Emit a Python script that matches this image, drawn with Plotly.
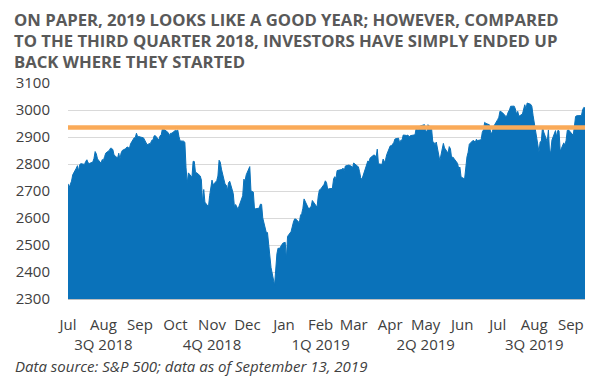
import plotly.graph_objects as go

# ---- data: S&P 500 daily closes (read/estimated) ----
jul18_days = [2, 3, 5, 6, 9, 10, 11, 12, 13, 16, 17, 18, 19, 20, 23, 24, 25, 26, 27, 30, 31]
jul18_vals = [2726.71, 2713.22, 2736.61, 2759.82, 2784.17, 2793.84, 2774.02, 2798.29, 2801.31, 2798.43,
              2809.55, 2815.62, 2804.49, 2801.83, 2806.98, 2820.40, 2846.07, 2837.44, 2818.82, 2802.60, 2816.29]
aug18_days = [1, 2, 3, 6, 7, 8, 9, 10, 13, 14, 15, 16, 17, 20, 21, 22, 23, 24, 27, 28, 29, 30, 31]
aug18_vals = [2813.36, 2827.22, 2840.35, 2850.40, 2858.45, 2857.70, 2853.58, 2833.28, 2821.93, 2839.96,
              2818.37, 2840.69, 2850.13, 2857.05, 2862.96, 2861.82, 2856.98, 2874.69, 2896.74, 2897.52,
              2914.04, 2901.13, 2901.52]
sep18_days = [4, 5, 6, 7, 10, 11, 12, 13, 14, 17, 18, 19, 20, 21, 24, 25, 26, 27, 28]
sep18_vals = [2896.72, 2888.60, 2878.05, 2871.68, 2877.13, 2887.89, 2888.92, 2904.18, 2904.98, 2888.80,
              2904.31, 2907.95, 2930.75, 2929.67, 2919.37, 2915.56, 2905.97, 2914.00, 2913.98]
oct18_days = [1, 2, 3, 4, 5, 8, 9, 10, 11, 12, 15, 16, 17, 18, 19, 22, 23, 24, 25, 26, 29, 30, 31]
oct18_vals = [2924.59, 2923.43, 2925.51, 2901.61, 2885.57, 2884.43, 2880.34, 2785.68, 2728.37, 2767.13,
              2750.79, 2809.92, 2809.21, 2768.78, 2767.78, 2755.88, 2740.69, 2656.10, 2705.57, 2658.69,
              2641.25, 2682.63, 2711.74]
nov18_days = [1, 2, 5, 6, 7, 8, 9, 12, 13, 14, 15, 16, 19, 20, 21, 23, 26, 27, 28, 29, 30]
nov18_vals = [2740.37, 2723.06, 2738.31, 2755.45, 2813.89, 2806.83, 2781.01, 2726.22, 2722.18, 2701.58,
              2730.20, 2736.27, 2690.73, 2641.89, 2649.93, 2632.56, 2673.45, 2682.17, 2743.79, 2737.80, 2760.17]
dec18_days = [3, 4, 6, 7, 10, 11, 12, 13, 14, 17, 18, 19, 20, 21, 24, 26, 27, 28, 31]
dec18_vals = [2790.37, 2700.06, 2695.95, 2633.08, 2637.72, 2636.78, 2651.07, 2650.54, 2599.95, 2545.94,
              2546.16, 2506.96, 2467.42, 2416.62, 2351.10, 2467.70, 2488.83, 2485.74, 2506.85]
jan19_days = [2, 3, 4, 7, 8, 9, 10, 11, 14, 15, 16, 17, 18, 22, 23, 24, 25, 28, 29, 30, 31]
jan19_vals = [2510.03, 2447.89, 2531.94, 2549.69, 2574.41, 2584.96, 2596.64, 2596.26, 2582.61, 2610.30,
              2616.10, 2635.96, 2670.71, 2632.90, 2638.70, 2642.33, 2664.76, 2643.85, 2640.00, 2681.05, 2704.10]
feb19_days = [1, 4, 5, 6, 7, 8, 11, 12, 13, 14, 15, 19, 20, 21, 22, 25, 26, 27, 28]
feb19_vals = [2706.53, 2724.87, 2737.70, 2731.61, 2706.05, 2707.88, 2709.80, 2744.73, 2753.03, 2745.73,
              2775.60, 2779.76, 2784.70, 2774.88, 2792.67, 2796.11, 2793.90, 2792.38, 2784.49]
mar19_days = [1, 4, 5, 6, 7, 8, 11, 12, 13, 14, 15, 18, 19, 20, 21, 22, 25, 26, 27, 28, 29]
mar19_vals = [2803.69, 2792.81, 2789.65, 2771.45, 2748.93, 2743.07, 2783.30, 2791.52, 2810.92, 2808.48,
              2822.48, 2832.94, 2832.57, 2824.23, 2854.88, 2800.71, 2798.36, 2818.46, 2805.37, 2815.44, 2834.40]
apr19_days = [1, 2, 3, 4, 5, 8, 9, 10, 11, 12, 15, 16, 17, 18, 22, 23, 24, 25, 26, 29, 30]
apr19_vals = [2867.19, 2867.24, 2873.40, 2879.39, 2892.74, 2895.77, 2878.20, 2888.21, 2888.32, 2907.41,
              2905.58, 2907.06, 2900.45, 2905.03, 2907.97, 2933.68, 2927.25, 2926.17, 2939.88, 2943.03, 2945.83]
may19_days = [1, 2, 3, 6, 7, 8, 9, 10, 13, 14, 15, 16, 17, 20, 21, 22, 23, 24, 28, 29, 30, 31]
may19_vals = [2923.73, 2917.52, 2945.64, 2932.47, 2884.05, 2879.42, 2870.72, 2881.40, 2811.87, 2834.41,
              2850.96, 2876.32, 2859.53, 2840.23, 2864.36, 2856.27, 2822.24, 2826.06, 2802.39, 2783.02,
              2788.86, 2752.06]
jun19_days = [3, 4, 5, 6, 7, 10, 11, 12, 13, 14, 17, 18, 19, 20, 21, 24, 25, 26, 27, 28]
jun19_vals = [2744.45, 2803.27, 2826.15, 2843.49, 2873.34, 2886.73, 2885.72, 2879.84, 2891.64, 2886.98,
              2889.67, 2917.75, 2926.46, 2954.18, 2950.46, 2945.35, 2917.38, 2913.78, 2924.92, 2941.76]
jul19_days = [1, 2, 3, 5, 8, 9, 10, 11, 12, 15, 16, 17, 18, 19, 22, 23, 24, 25, 26, 29, 30, 31]
jul19_vals = [2964.33, 2973.01, 2995.82, 2990.41, 2975.95, 2979.63, 2993.07, 2999.91, 3013.77, 3014.30,
              3004.04, 2984.42, 2995.11, 2976.61, 2985.03, 3005.47, 3019.56, 3003.67, 3025.86, 3020.97,
              3013.18, 2980.38]
aug19_days = [1, 2, 5, 6, 7, 8, 9, 12, 13, 14, 15, 16, 19, 20, 21, 22, 23, 26, 27, 28, 29, 30]
aug19_vals = [2953.56, 2932.05, 2844.74, 2881.77, 2883.98, 2938.09, 2918.65, 2882.70, 2926.32, 2840.60,
              2847.60, 2888.68, 2923.65, 2900.51, 2924.43, 2922.95, 2847.11, 2878.38, 2869.16, 2887.94,
              2924.58, 2926.46]
sep19_days = [3, 4, 5, 6, 9, 10, 11, 12, 13]
sep19_vals = [2906.27, 2937.78, 2976.00, 2978.71, 2978.43, 2979.39, 3000.93, 3009.57, 3007.39]

months = ["2018-07", "2018-08", "2018-09", "2018-10", "2018-11", "2018-12", "2019-01", "2019-02",
          "2019-03", "2019-04", "2019-05", "2019-06", "2019-07", "2019-08", "2019-09"]
month_days = [jul18_days, aug18_days, sep18_days, oct18_days, nov18_days, dec18_days, jan19_days,
              feb19_days, mar19_days, apr19_days, may19_days, jun19_days, jul19_days, aug19_days, sep19_days]
month_vals = [jul18_vals, aug18_vals, sep18_vals, oct18_vals, nov18_vals, dec18_vals, jan19_vals,
              feb19_vals, mar19_vals, apr19_vals, may19_vals, jun19_vals, jul19_vals, aug19_vals, sep19_vals]

reference_level = 2935  # orange horizontal line

tick_dates = ["2018-07-02", "2018-08-01", "2018-09-01", "2018-10-01", "2018-11-01", "2018-12-01",
              "2019-01-01", "2019-02-01", "2019-03-01", "2019-04-01", "2019-05-01", "2019-06-01",
              "2019-07-01", "2019-08-01", "2019-09-01"]
tick_labels = ["Jul", "Aug<br>3Q 2018", "Sep", "Oct", "Nov<br>4Q 2018", "Dec", "Jan", "Feb<br>1Q 2019",
               "Mar", "Apr", "May<br>2Q 2019", "Jun", "Jul", "Aug<br>3Q 2019", "Sep"]

dates, closes = [], []
for m, ds, vs in zip(months, month_days, month_vals):
    for d, v in zip(ds, vs):
        dates.append(f"{m}-{d:02d}")
        closes.append(v)

FONT = "Open Sans"
TXT = "#404040"

# figure is drawn inside the page's 8px body margin
W, H = 592, 377
ML, MR, MT, MB = 60, 15, 75, 86
PW, PH = W - ML - MR, H - MT - MB

fig = go.Figure()
fig.add_trace(go.Scatter(x=dates, y=closes, mode="lines", fill="tozeroy",
                         line=dict(color="#0A72BA", width=1), fillcolor="#0A72BA",
                         hoverinfo="skip", showlegend=False))
fig.add_shape(type="line", xref="paper", x0=0, x1=1, yref="y", y0=reference_level, y1=reference_level,
              line=dict(color="#FAAA58", width=4.5), layer="above")

fig.update_layout(
    width=W, height=H,
    margin=dict(l=ML, r=MR, t=MT, b=MB),
    paper_bgcolor="white", plot_bgcolor="white",
    font=dict(family=FONT, color=TXT, size=15),
    showlegend=False,
    xaxis=dict(type="date", range=["2018-07-02", "2019-09-13"], tickvals=tick_dates, ticktext=tick_labels,
               showgrid=False, zeroline=False, showline=True, linecolor="#BFBFBF", linewidth=1,
               ticks="", tickangle=0, automargin=False,
               tickfont=dict(size=15, color=TXT), ticklabelstandoff=12),
    yaxis=dict(range=[2300, 3100], dtick=100, showgrid=True, gridcolor="#D9D9D9", gridwidth=1,
               zeroline=False, showline=False, ticks="", automargin=False,
               tickfont=dict(size=15, color=TXT), ticklabelstandoff=17),
)

title_lines = ["ON PAPER, 2019 LOOKS LIKE A GOOD YEAR; HOWEVER, COMPARED",
               "TO THE THIRD QUARTER 2018, INVESTORS HAVE SIMPLY ENDED UP",
               "BACK WHERE THEY STARTED"]
for i, t in enumerate(title_lines):
    fig.add_annotation(text=f"<b>{t}</b>", xref="paper", yref="paper", x=(5 - ML) / PW,
                       xanchor="left", yanchor="middle", borderpad=0,
                       y=1 + (MT - (11.5 + 21 * i)) / PH, showarrow=False,
                       font=dict(family=FONT, size=16.7, color="#595959"))

fig.add_annotation(text="<i>Data source: S&P 500; data as of September 13, 2019</i>",
                   xref="paper", yref="paper", x=(5 - ML) / PW, xanchor="left",
                   y=-(358 - (H - MB)) / PH, yanchor="middle", showarrow=False,
                   font=dict(family=FONT, size=15, color=TXT))

fig.write_html("out.html")
